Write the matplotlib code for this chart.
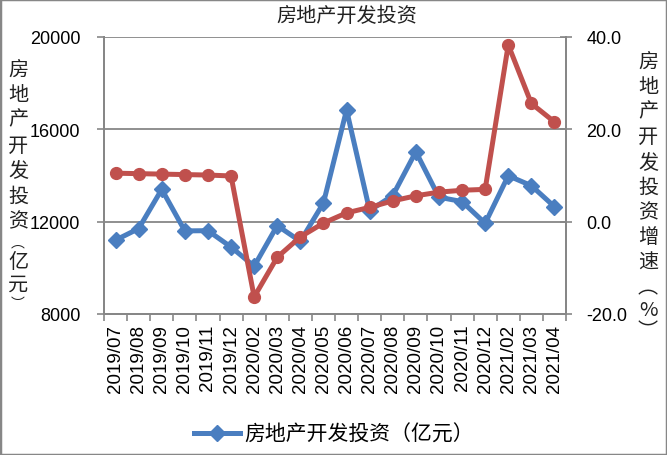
import matplotlib
matplotlib.use("Agg")
import matplotlib.pyplot as plt
from matplotlib.lines import Line2D
from matplotlib.patches import Rectangle
import numpy as np

plt.rcParams['font.family'] = ['Liberation Sans', 'Noto Sans CJK SC', 'DejaVu Sans']

categories = ["2019/07", "2019/08", "2019/09", "2019/10", "2019/11", "2019/12",
              "2020/02", "2020/03", "2020/04", "2020/05", "2020/06", "2020/07",
              "2020/08", "2020/09", "2020/10", "2020/11", "2020/12",
              "2021/02", "2021/03", "2021/04"]
investment = [11200, 11700, 13400, 11600, 11610, 10900,
              10070, 11830, 11150, 12810, 16840, 12480,
              13130, 15030, 13060, 12870, 11930,
              13990, 13560, 12650]
growth = [10.5, 10.4, 10.3, 10.2, 10.1, 9.9,
          -16.3, -7.7, -3.3, -0.3, 1.9, 3.1,
          4.5, 5.6, 6.4, 6.8, 7.0,
          38.3, 25.6, 21.6]
left_ticks = [8000, 12000, 16000, 20000]
right_ticks = [-20, 0, 20, 40]

title = "房地产开发投资"
left_label = ["房", "地", "产", "开", "发", "投", "资", "︵", "亿", "元", "︶"]
right_label = ["房", "地", "产", "开", "发", "投", "资", "增", "速", "︵", "%", "︶"]
legend_label = "房地产开发投资（亿元）"

BLUE = "#4A7EC0"
RED = "#C0504D"
GRAY = "#878787"
TXT = "#222222"
CJK = ['Noto Sans CJK SC', 'DejaVu Sans']

W, H = 667, 456
fig = plt.figure(figsize=(W / 100, H / 100), dpi=100)
ax = fig.add_axes([104 / W, 1 - 315 / H, 462 / W, 277 / H])
ax2 = ax.twinx()

x = np.arange(len(categories))
ax.plot(x, investment, color=BLUE, lw=3.6, marker='D', ms=8.5,
        markeredgecolor=BLUE, solid_joinstyle='round', zorder=3)
ax2.plot(x, growth, color=RED, lw=3.6, marker='o', ms=8.5,
         markeredgecolor=RED, solid_joinstyle='round', zorder=3)

ax.set_xlim(-0.5, len(categories) - 0.5)
ax.set_ylim(8000, 20000)
ax2.set_ylim(-20, 40)
ax.set_yticks(left_ticks)
ax.set_yticklabels([str(v) for v in left_ticks])
ax2.set_yticks(right_ticks)
ax2.set_yticklabels([f"{v:.1f}" for v in right_ticks])

ax.set_xticks(x)
ax.set_xticklabels(categories, rotation=90, fontsize=13.5)
ax.set_xticks(np.arange(-0.5, len(categories)), minor=True)
ax.tick_params(axis='x', which='major', length=0, pad=7)
ax.tick_params(axis='x', which='minor', length=5, width=1.2, color=GRAY, direction='out')
ax.tick_params(axis='y', length=5, width=1.2, color=GRAY, direction='out', labelsize=13, pad=12)
ax2.tick_params(axis='y', length=9, width=1.2, color=GRAY, direction='inout', labelsize=13, pad=10)

ax.yaxis.grid(True, color=GRAY, lw=1.3)
ax.set_axisbelow(True)
for a in (ax, ax2):
    for s in a.spines.values():
        s.set_color(GRAY)
        s.set_linewidth(1.4)
ax.spines['top'].set_visible(False)
ax2.spines['top'].set_visible(False)

fig.text(347 / W, 1 - 16 / H, title, family=CJK, fontsize=14.5,
         ha='center', va='center', color=TXT)

left_y = [70, 95, 120, 146, 171, 197, 222, 243, 262, 285, 304]
left_fs = [14.5] * 7 + [10, 14.5, 14.5, 10]
for ch, yy, fs in zip(left_label, left_y, left_fs):
    fig.text(18 / W, 1 - yy / H, ch, family=CJK, fontsize=fs,
             ha='center', va='center', color=TXT)

right_y = [62, 87, 112, 137, 163, 188, 213, 238, 263, 288, 310, 332]
for ch, yy in zip(right_label, right_y):
    fig.text(648 / W, 1 - yy / H, ch, family=CJK, fontsize=14.5,
             ha='center', va='center', color=TXT)

handle = Line2D([], [], color=BLUE, lw=3.6, marker='D', ms=8.5)
fig.legend([handle], [legend_label], loc='center', bbox_to_anchor=(334 / W, 1 - 435 / H),
           frameon=False, prop={'family': CJK, 'size': 15}, handlelength=2.2,
           handletextpad=0.2)

fig.add_artist(Rectangle((0, 0), 1, 1, transform=fig.transFigure, fill=False,
                         edgecolor=GRAY, lw=2.5))

fig.savefig("out.png", dpi=100)
